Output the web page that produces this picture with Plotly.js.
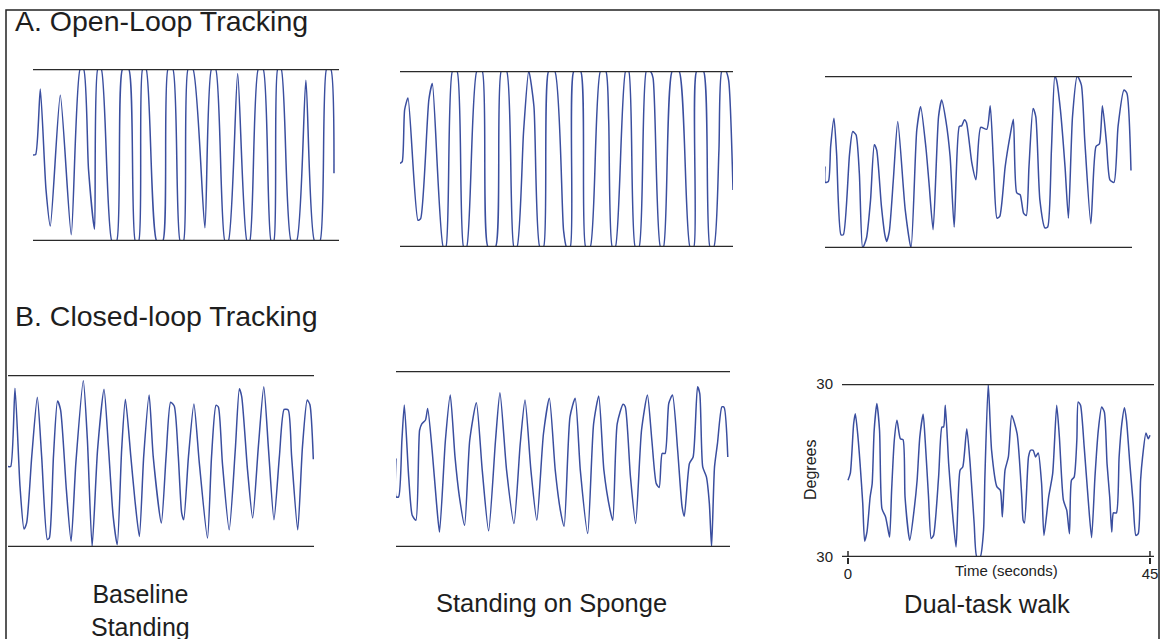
<!DOCTYPE html>
<html>
<head>
<meta charset="utf-8">
<script src="https://cdn.plot.ly/plotly-3.0.1.min.js"></script>
<style>
  html, body { margin: 0; padding: 0; background: #ffffff; }
  #chart { width: 1160px; height: 639px; }
</style>
</head>
<body>
<div id="chart"></div>
<script>
// ---------- DATA (time in seconds, angle in degrees) ----------
const limits = [-30, 30];

const a1_time = [0,0.4,1.09,1.94,2.59,4.08,5.72,7.06,7.56,8.30,9.20,9.7,10.2,11.8,12.5,13.4,14.3,15.3,15.8,16.4,16.9,18.5,19.4,20.2,20.9,22.0,22.5,23.2,23.9,25.7,26.7,27.3,28.7,29.2,30.6,32.0,32.4,33.7,34.4,35.6,36.0,36.6,37.1,38.6,39.4,40.8,42.1,42.9,43.9,44.5,45];
const a1_deg  = [0,0.2,23,-12,-24.8,20.8,-27.8,30,30,-5,-25.9,30,30,-30,-30,30,30,-30,-30,30,30,-30,-30,30,30,-30,-30,30,30,-25.4,30,30,-30,-30,28.4,-30,-30,30,30,-30,-30,30,30,-30,-30,26.1,-30,-30,30,30,-6.4];

const a2_time = [0,0.3,0.63,1.08,2.43,2.79,3.9,4.37,5.85,6.2,7.1,7.7,8.6,9.0,10.4,11.1,11.9,12.9,13.7,14.4,15.4,15.8,16.7,17.4,18.1,18.9,19.4,20.1,20.9,22.1,22.5,23.0,23.5,24.4,25.1,25.7,27.1,27.8,28.2,28.7,29.1,30.5,30.9,31.8,32.3,33.3,33.8,34.2,35.2,35.6,36.8,37.7,39.2,39.7,40.1,41.0,41.9,42.4,43.1,43.5,44.0,44.4,45];
const a2_deg  = [-1.5,-0.9,16.8,20.8,-20.9,-20.3,20.2,25.7,-30,-30,30,30,-30,-30,30,30,-30,-30,30,30,-30,-30,9.4,30,17.9,-30,-30,30,30,-24.3,-30,-30,30,30,-30,-30,30,30,13.3,-30,-30,30,30,-30,-30,30,30,27.6,-30,-30,30,30,-30,-30,30,30,-30,-30,3.1,30,30,27,-10.6];

const a3_time = [0,0.05,0.5,0.83,1.32,1.7,2.35,2.7,3.6,4.07,4.56,5.05,5.54,6.1,6.7,7.25,7.6,8.3,8.8,9.07,9.46,10.05,10.7,11.8,12.65,13.5,14.07,14.85,15.3,15.9,16.7,17.16,17.8,18.4,19.0,19.75,20.1,20.5,20.8,21.6,22.2,22.9,23.8,24.3,24.8,25.3,25.7,26.5,27.2,27.7,28.2,28.7,29.2,29.6,30.0,30.6,31.0,31.6,32.35,32.75,33.3,33.8,34.05,34.6,35.3,35.8,36.4,37.1,37.7,38.2,39.1,39.85,40.35,40.8,41.4,41.9,42.5,43.1,43.97,44.4,45];
const a3_deg  = [-1.6,-7.1,-6.8,5.4,15.3,3.1,-25.4,-25.4,2.5,10.6,9.5,-3.9,-30,-26.5,-13.2,6.0,4.2,-15.5,-25.4,-27.7,-24.2,-6.2,14.1,-16.7,-30,11.2,19.3,4.8,-7.4,-23.6,15.8,21.6,14.1,1.9,-22.7,12.4,12.6,14.7,13.8,-0.4,-6.2,12.1,11.4,19.6,-1.6,-19.6,-19.0,-1.6,8.9,14.9,-10.8,-11.4,-17.8,-18.7,-1.6,18.7,15.8,-13.2,-23.0,-22.7,4.2,30,28.6,18.7,-1.6,-19.6,15.8,30,26.9,7.7,-21.5,5.4,6.3,19.6,6.6,-6.2,-7.1,12.4,25.1,24.0,-3.0];

const b1_time = [0,0.4,1.03,1.77,2.36,2.75,3.5,4.32,4.96,5.8,6.1,6.7,7.3,7.75,8.6,9.3,10.0,11.1,11.7,12.4,13.2,14.15,14.8,15.5,16.1,16.75,17.3,18.1,18.7,19.36,20.0,20.8,21.4,22.6,23.3,23.97,24.5,25.1,25.6,25.9,26.6,27.4,28.2,29.4,30.0,30.66,31.0,31.6,32.6,33.5,34.1,34.45,35.3,36.06,36.9,37.7,38.4,39.2,40.0,40.7,41.3,41.8,42.7,43.4,44.1,44.5,45];
const b1_deg  = [-1.9,-1.9,25.4,-8.9,-23.7,-21.6,1.6,22.2,1.6,-27.4,-26.8,1.6,20.9,17.8,-10.0,-28.0,-0.75,28.0,7.4,-29.8,3.9,25.0,5.0,-19.3,-29.2,3.9,21.5,1.6,-13.5,-26.3,1.6,23.0,1.6,-21.6,1.6,20.5,19.2,1.6,-18.2,-20.5,1.6,19.9,-0.75,-26.9,1.6,19.4,18.9,-0.75,-24.0,3.9,25.2,22.4,-3.1,-19.9,5.0,25.9,3.9,-20.5,1.6,18.0,17.8,1.6,-24.0,5.0,21.3,19.6,0.6];

const b2_time = [0,0.01,0.36,0.8,1.13,1.72,2.2,2.7,3.2,3.5,4.0,4.3,4.9,5.5,5.9,6.7,7.36,8.0,8.6,9.3,10.0,10.9,11.7,12.56,13.5,14.1,15.0,16.0,16.85,17.5,18.3,19.1,20.0,20.8,21.6,22.3,22.8,23.6,24.3,25.0,26.0,26.8,27.5,28.2,29.05,29.4,30.0,30.8,31.1,31.8,32.5,33.3,34.1,34.7,35.3,35.7,36.1,36.5,37.0,37.5,38.2,38.8,39.1,39.8,40.3,40.9,41.2,41.6,42.1,42.5,42.8,43.2,43.6,44.2,44.5,45];
const b2_deg  = [0.2,-12.9,-12.9,6.4,18.4,-6.1,-19.2,-20.9,9.8,12.0,13.3,17.2,3.0,-15.2,-24.9,6.4,21.8,0.8,-12.9,-22.6,6.4,19.2,-3.9,-24.5,6.4,22.6,-3.9,-22.0,5.2,20.1,-3.9,-20.9,8.6,20.7,-3.9,-17.6,-22.9,14.4,20.7,-3.9,-25.4,12.0,21.5,-3.9,-17.6,-20.9,12.0,18.7,17.8,-6.1,-22.0,9.8,21.8,6.4,-8.4,-9.7,1.9,1.9,19.0,21.8,3.0,-16.3,-19.5,-1.5,0.7,24.6,22.3,-2.7,-6.1,-15.2,-30,-2.7,5.3,17.8,17.6,0.7];

const b3_time = [0,0.35,0.84,1.09,1.44,1.8,2.2,2.48,2.83,3.3,3.6,3.9,4.3,4.7,5.06,5.6,5.9,6.2,6.5,6.9,7.3,7.8,8.2,8.5,9.2,9.9,10.3,10.7,11.2,11.5,12.0,12.4,12.75,13.5,14.0,14.25,14.5,15.0,15.5,16.1,16.7,17.1,17.7,18.2,18.8,19.2,19.7,20.2,20.4,20.9,21.4,22.2,22.7,23.0,23.4,23.9,24.4,25.2,25.9,26.1,26.3,26.9,27.2,27.6,27.95,28.35,28.85,29.2,29.9,30.5,31.1,31.5,32.1,32.6,33.0,33.3,33.7,34.1,34.3,34.65,35.2,35.8,36.3,36.8,37.3,37.8,38.2,38.6,39.0,39.3,39.55,40.0,40.4,40.8,41.2,41.5,42.0,42.5,42.9,43.25,43.6,43.9,44.4,44.75,45];
const b3_deg  = [-3.4,-0.9,16.2,19.7,12.8,2.4,-11.5,-24.5,-21.3,-9.2,-4.6,13.9,23.2,13.9,-13.2,-16.1,-19.6,-23.1,-6.9,10.5,17.4,11.0,10.7,-9.2,-24.2,-12.7,-3.4,11.6,19.5,10.5,-9.2,-23.6,-22.5,-2.3,15.1,15.1,22.6,2.4,-12.7,-26.5,0.1,1.2,14.5,2.4,-18.4,-30,-30,-20.8,-2.3,30,7.0,-5.7,-6.9,-16.1,0.1,4.7,19.1,12.8,-9.2,-17.3,-18.2,4.7,7.0,7.0,4.7,6.1,-4.6,-22.5,-9.2,-1.1,22.6,11.6,-10.3,-13.8,-21.9,-3.4,-2.3,10.5,23.8,22.6,8.1,-10.3,-23.3,-2.3,13.9,22.0,20.3,2.4,-9.2,-21.3,-14.7,-14.7,4.7,16.2,21.8,17.4,2.4,-11.5,-22.5,-21.9,-3.4,4.7,13.0,11.0,12.2];

const panelTitles = ["A. Open-Loop Tracking", "B. Closed-loop Tracking"];
const conditionLabels = ["Baseline<br>Standing", "Standing on Sponge", "Dual-task walk"];
const timeTicks = [0, 45];
const timeTickText = ["0", "45"];
const degTickText = ["30", "30"];
const xAxisTitle = "Time (seconds)";
const yAxisTitle = "Degrees";

// ---------- LAYOUT / STYLE ----------
const W = 1160, H = 639;
const px = v => v / W;
const py = v => 1 - v / H;

// panel frames in pixels: [left, right, top, bottom], x range
const panels = [
  {t: a1_time, v: a1_deg, box: [33, 339, 69, 241],  xr: [0, 45.75]},
  {t: a2_time, v: a2_deg, box: [400, 733, 71, 247], xr: [0, 45]},
  {t: a3_time, v: a3_deg, box: [825, 1132, 76, 248], xr: [0, 45.15]},
  {t: b1_time, v: b1_deg, box: [8, 314, 375, 547],  xr: [0, 45.1]},
  {t: b2_time, v: b2_deg, box: [396, 730, 371, 547], xr: [0, 45.3]},
  {t: b3_time, v: b3_deg, box: [842, 1154, 384, 557], xr: [-0.894, 45.6]}
];

const FONT = "Liberation Sans, Arial, Helvetica, sans-serif";
const traceColor = "#3a4e9f";
const lineColor = "#2a2a2a";

const data = [];
const layout = {
  width: W, height: H,
  margin: {l: 0, r: 0, t: 0, b: 0},
  paper_bgcolor: "#ffffff",
  plot_bgcolor: "rgba(0,0,0,0)",
  showlegend: false,
  font: {family: FONT, color: "#222"},
  shapes: [],
  annotations: []
};

panels.forEach((p, i) => {
  const n = i + 1;
  const xa = n === 1 ? "xaxis" : "xaxis" + n;
  const ya = n === 1 ? "yaxis" : "yaxis" + n;
  const xr = n === 1 ? "x" : "x" + n;
  const yr = n === 1 ? "y" : "y" + n;
  data.push({
    type: "scatter", mode: "lines",
    x: p.t, y: p.v,
    xaxis: xr, yaxis: yr,
    line: {color: traceColor, width: 1.5, shape: "spline", smoothing: 0.6},
    hoverinfo: "skip"
  });
  const isB3 = n === 6;
  layout[xa] = {
    domain: [px(p.box[0]), px(p.box[1])],
    range: p.xr, anchor: yr,
    showgrid: false, zeroline: false, showline: false,
    visible: isB3,
    tickmode: "array",
    tickvals: isB3 ? timeTicks : [],
    ticktext: isB3 ? timeTickText : [],
    ticks: isB3 ? "outside" : "",
    ticklen: 6, tickwidth: 1.5, tickcolor: lineColor,
    ticklabelstandoff: -3,
    tickfont: {family: FONT, size: 15, color: "#222"},
    fixedrange: true
  };
  layout[ya] = {
    domain: [py(p.box[3]), py(p.box[2])],
    range: [limits[0], limits[1]], anchor: xr,
    showgrid: false, zeroline: false, showline: false,
    visible: isB3,
    tickmode: "array",
    tickvals: isB3 ? limits : [],
    ticktext: isB3 ? degTickText : [],
    ticks: "",
    ticklabelstandoff: 8,
    tickfont: {family: FONT, size: 15, color: "#222"},
    fixedrange: true
  };
  limits.forEach(lim => {
    layout.shapes.push({
      type: "line", xref: xr + " domain", yref: yr,
      x0: 0, x1: 1, y0: lim, y1: lim,
      line: {color: lineColor, width: 2.5}
    });
  });
  if (isB3) {
    timeTicks.forEach(tv => {
      layout.shapes.push({
        type: "line", xref: xr, yref: yr + " domain",
        x0: tv, x1: tv, y0: 0, y1: 0.035,
        line: {color: lineColor, width: 1.5}
      });
    });
  }
});

// outer frame
layout.shapes.push({
  type: "rect", xref: "paper", yref: "paper",
  x0: px(6), x1: px(1159), y0: -0.2, y1: py(10),
  line: {color: "#222", width: 1.5}, fillcolor: "rgba(0,0,0,0)"
});

// titles
layout.annotations.push(
  {text: panelTitles[0], xref: "paper", yref: "paper", x: px(13), y: py(21),
   xanchor: "left", yanchor: "middle", showarrow: false,
   font: {family: FONT, size: 28.5, color: "#1e1e1e"}},
  {text: panelTitles[1], xref: "paper", yref: "paper", x: px(13), y: py(316),
   xanchor: "left", yanchor: "middle", showarrow: false,
   font: {family: FONT, size: 28.5, color: "#1e1e1e"}},
  {text: conditionLabels[0], xref: "paper", yref: "paper", x: px(140), y: py(610),
   xanchor: "center", yanchor: "middle", showarrow: false, align: "center",
   font: {family: FONT, size: 25, color: "#1e1e1e"}},
  {text: conditionLabels[1], xref: "paper", yref: "paper", x: px(551), y: py(603),
   xanchor: "center", yanchor: "middle", showarrow: false,
   font: {family: FONT, size: 25.5, color: "#1e1e1e"}},
  {text: conditionLabels[2], xref: "paper", yref: "paper", x: px(987), y: py(604),
   xanchor: "center", yanchor: "middle", showarrow: false,
   font: {family: FONT, size: 25.5, color: "#1e1e1e"}},
  {text: xAxisTitle, xref: "paper", yref: "paper", x: px(1006), y: py(570),
   xanchor: "center", yanchor: "middle", showarrow: false,
   font: {family: FONT, size: 15, color: "#222"}},
  {text: yAxisTitle, xref: "paper", yref: "paper", x: px(810), y: py(470),
   xanchor: "center", yanchor: "middle", showarrow: false, textangle: -90,
   font: {family: FONT, size: 16, color: "#222"}}
);

Plotly.newPlot("chart", data, layout, {displayModeBar: false, staticPlot: true});
</script>
</body>
</html>
